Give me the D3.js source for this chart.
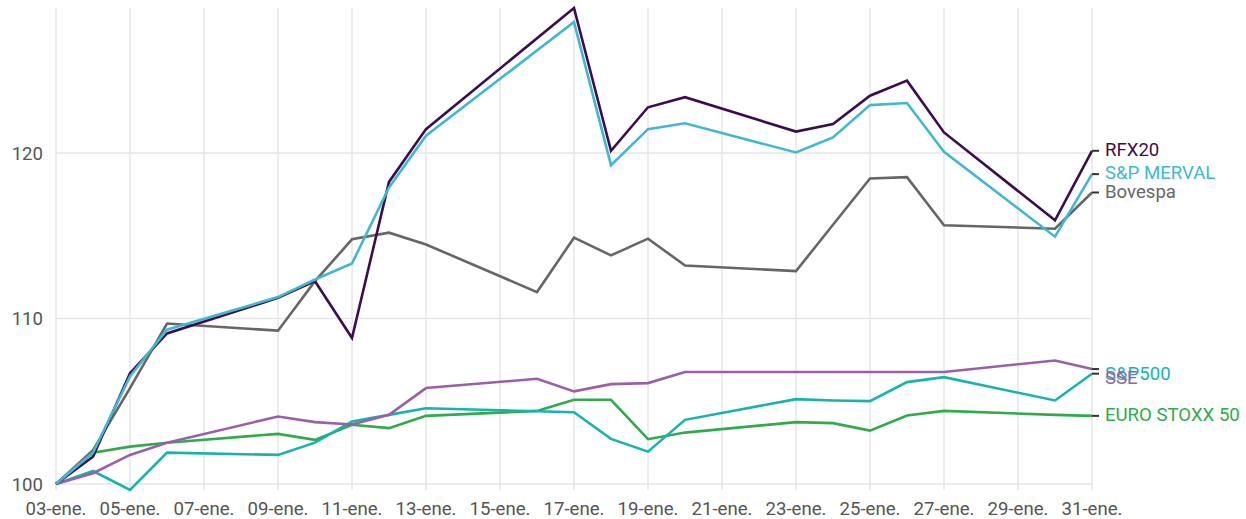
<!DOCTYPE html>
<html>
<head>
<meta charset="utf-8">
<script src="https://cdn.jsdelivr.net/npm/d3@7"></script>
<style>
  html, body { margin: 0; padding: 0; background: #fff; }
  svg { display: block; font-family: Roboto, "Noto Sans", sans-serif; }
</style>
</head>
<body>
<svg id="chart" width="1246" height="519"></svg>
<script>
// ---- data ----
const dates = ["2017-01-03","2017-01-04","2017-01-05","2017-01-06","2017-01-09","2017-01-10","2017-01-11",
  "2017-01-12","2017-01-13","2017-01-16","2017-01-17","2017-01-18","2017-01-19","2017-01-20",
  "2017-01-23","2017-01-24","2017-01-25","2017-01-26","2017-01-27","2017-01-30","2017-01-31"];

const rfx20     = [100, 101.65, 106.7, 109.1, 111.25, 112.26, 108.83, 118.26, 121.45, null, 128.77, 120.14, 122.77, 123.38, 121.3, 121.76, 123.47, 124.38, 121.25, 115.94, 120.14];
const merval    = [100, 101.9, 106.5, 109.33, 111.3, 112.36, 113.33, 117.92, 121.05, null, 127.92, 119.27, 121.45, 121.8, 120.04, 120.95, 122.9, 123.03, 120.08, 114.95, 118.73];
const bovespa   = [100, 102.05, 105.8, 109.7, 109.27, 112.26, 114.79, 115.19, 114.48, 111.6, 114.89, 113.82, 114.83, 113.21, 112.87, 115.67, 118.47, 118.55, 115.64, 115.43, 117.62];
const sse       = [100, 100.65, 101.76, 102.5, 104.08, 103.74, 103.6, 104.18, 105.8, 106.36, 105.6, 106.04, 106.1, 106.77, 106.77, 106.77, 106.77, 106.77, 106.77, 107.47, 106.95];
const sp500     = [100, 100.79, 99.64, 101.9, 101.76, 102.5, 103.78, 104.18, 104.58, null, 104.34, 102.73, 101.96, 103.88, 105.13, 105.05, 105.01, 106.16, 106.46, 105.05, 106.67];
const eurostoxx = [100, 101.9, 102.26, 102.5, 103.03, 102.67, 103.58, 103.38, 104.12, 104.42, 105.09, 105.09, 102.71, 103.11, 103.74, 103.68, 103.23, 104.14, 104.42, 104.18, 104.12];

const seriesNames  = ["EURO STOXX 50", "S&P500", "SSE", "Bovespa", "RFX20", "S&P MERVAL"];
const seriesValues = [eurostoxx, sp500, sse, bovespa, rfx20, merval];
const seriesColors = ["#2fab4c", "#17b3ae", "#9a5fa8", "#666666", "#3d0c4e", "#41b8d2"];

const yTicks = [100, 110, 120];
const xTickDates = ["2017-01-03","2017-01-05","2017-01-07","2017-01-09","2017-01-11","2017-01-13","2017-01-15",
  "2017-01-17","2017-01-19","2017-01-21","2017-01-23","2017-01-25","2017-01-27","2017-01-29","2017-01-31"];

// ---- chart ----
(function () {
const parse = d3.utcParse("%Y-%m-%d");
const fmt = d3.utcFormat("%d");
const svg = d3.select("#chart");
const FS = 18.6;

const mLeft = 56, mRight = 1092, mTop = 8, mBottom = 490;

const x = d3.scaleUtc()
  .domain(d3.extent(dates, parse))
  .range([mLeft, mRight]);

const allVals = seriesValues.flat().filter(v => v != null);
const y = d3.scaleLinear()
  .domain(d3.extent(allVals))
  .range([mBottom, mTop]);

// grid
const grid = svg.append("g");
grid.selectAll("line.v")
  .data(xTickDates.map(parse))
  .join("line")
  .attr("class", "v")
  .attr("x1", d => x(d)).attr("x2", d => x(d))
  .attr("y1", mTop).attr("y2", mBottom)
  .attr("stroke", "#e6e6e6").attr("stroke-width", 1.5);
grid.selectAll("line.h")
  .data(yTicks)
  .join("line")
  .attr("class", "h")
  .attr("x1", mLeft).attr("x2", mRight)
  .attr("y1", d => y(d)).attr("y2", d => y(d))
  .attr("stroke", "#e6e6e6").attr("stroke-width", 1.5);

// y axis labels
svg.append("g").selectAll("text")
  .data(yTicks)
  .join("text")
  .attr("x", 43)
  .attr("y", d => y(d))
  .attr("dy", "0.35em")
  .attr("text-anchor", "end")
  .attr("font-size", FS)
  .attr("fill", "#555")
  .text(d => d);

// x axis labels
svg.append("g").selectAll("text")
  .data(xTickDates.map(parse))
  .join("text")
  .attr("x", d => x(d))
  .attr("y", 514.5)
  .attr("text-anchor", "middle")
  .attr("font-size", FS)
  .attr("fill", "#555")
  .text(d => fmt(d) + "-ene.");

// lines
const line = d3.line()
  .x(d => x(d.date))
  .y(d => y(d.v));

const series = seriesNames.map((name, i) => ({
  name,
  color: seriesColors[i],
  points: dates.map((dt, j) => ({ date: parse(dt), v: seriesValues[i][j] })).filter(p => p.v != null)
}));

svg.append("g").selectAll("path")
  .data(series)
  .join("path")
  .attr("d", s => line(s.points))
  .attr("fill", "none")
  .attr("stroke", s => s.color)
  .attr("stroke-width", 2.6)
  .attr("stroke-linejoin", "miter")
  .attr("stroke-linecap", "butt");

// end labels (small vertical nudges as in the original label layout)
const nudge = { "SSE": 8, "S&P500": 0 };
const lab = svg.append("g");
series.forEach(s => {
  const last = s.points[s.points.length - 1];
  const yy = y(last.v);
  lab.append("line")
    .attr("x1", x(last.date)).attr("x2", x(last.date) + 7)
    .attr("y1", yy).attr("y2", yy)
    .attr("stroke", "#333").attr("stroke-width", 2);
  lab.append("text")
    .attr("x", x(last.date) + 13)
    .attr("y", yy + (s.name in nudge ? nudge[s.name] : -1.5))
    .attr("dy", "0.35em")
    .attr("font-size", FS)
    .attr("fill", s.color)
    .text(s.name);
});
})();
</script>
</body>
</html>
